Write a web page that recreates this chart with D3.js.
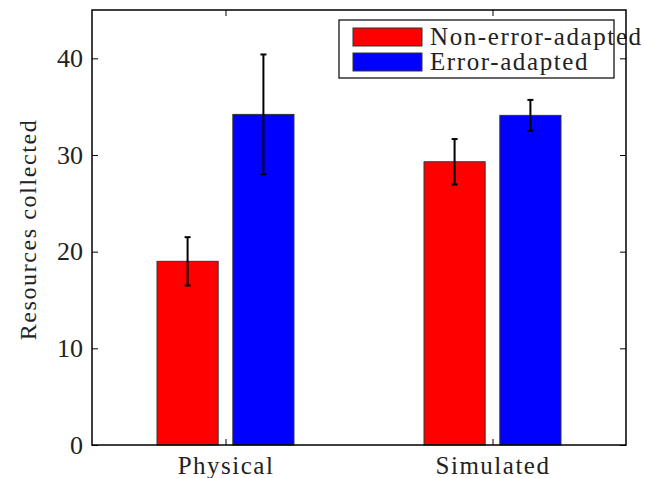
<!DOCTYPE html>
<html lang="en">
<head>
    <meta charset="UTF-8">
    <title>Resources collected</title>
    <script src="https://d3js.org/d3.v7.min.js"></script>
    <style>
        body { margin: 0; background: #fff; }
        text { font-family: "Liberation Serif", "DejaVu Serif", serif; fill: #222; }
    </style>
</head>
<body>
    <svg width="645" height="478"></svg>

    <script>
        // Data
        const categories = ["Physical", "Simulated"];
        const seriesNames = ["Non-error-adapted", "Error-adapted"];
        const seriesColors = ["#ff0000", "#0000ff"];
        const nonAdapted = [19.0, 29.3];
        const nonAdaptedErr = [2.5, 2.35];
        const adapted = [34.2, 34.1];
        const adaptedErr = [6.2, 1.6];
        const yTicks = [0, 10, 20, 30, 40];

        const width = 645;
        const height = 478;
        const margin = { top: 10, right: 19, bottom: 33, left: 92 };
        const x0 = margin.left, x1 = width - margin.right;
        const y0 = height - margin.bottom, y1 = margin.top;

        const svg = d3.select("svg");

        // group index 1..2, xlim [0.5, 2.5] like matlab
        const xScale = d3.scaleLinear().domain([0.5, 2.5]).range([x0, x1]);
        const yScale = d3.scaleLinear().domain([0, 45]).range([y0, y1]);

        const barW = 0.229;
        const offsets = [-0.142, 0.142];
        const values = [nonAdapted, adapted];
        const errs = [nonAdaptedErr, adaptedErr];

        const bars = [];
        values.forEach((vals, s) => {
            vals.forEach((v, i) => {
                bars.push({ s, x: i + 1 + offsets[s], v, e: errs[s][i] });
            });
        });

        // bars
        svg.append("g").selectAll("rect")
            .data(bars)
            .join("rect")
            .attr("x", d => xScale(d.x - barW / 2))
            .attr("width", d => xScale(d.x + barW / 2) - xScale(d.x - barW / 2))
            .attr("y", d => yScale(d.v))
            .attr("height", d => yScale(0) - yScale(d.v))
            .attr("fill", d => seriesColors[d.s])
            .attr("stroke", "#333")
            .attr("stroke-width", 1);

        // error bars
        const eb = svg.append("g").attr("stroke", "#000").attr("stroke-width", 2);
        bars.forEach(d => {
            const cx = xScale(d.x);
            eb.append("line").attr("x1", cx).attr("x2", cx)
                .attr("y1", yScale(d.v - d.e)).attr("y2", yScale(d.v + d.e));
            [d.v - d.e, d.v + d.e].forEach(y => {
                eb.append("line").attr("x1", cx - 3).attr("x2", cx + 3)
                    .attr("y1", yScale(y)).attr("y2", yScale(y));
            });
        });

        // legend (drawn under the axes, as in the original)
        const legend = svg.append("g");
        legend.append("rect")
            .attr("x", 339).attr("y", 20).attr("width", 275).attr("height", 58)
            .attr("fill", "#fff").attr("stroke", "#000").attr("stroke-width", 1.2);
        seriesNames.forEach((name, i) => {
            const yy = 28 + i * 25;
            legend.append("rect")
                .attr("x", 353).attr("y", yy).attr("width", 69).attr("height", 18)
                .attr("fill", seriesColors[i]).attr("stroke", "#333");
            legend.append("text")
                .attr("x", 430).attr("y", yy + 17)
                .attr("font-size", 25)
                .attr("letter-spacing", 1.6)
                .attr("fill", "#222")
                .text(name);
        });

        // axes with inward ticks on all four sides
        const tickLen = 6;
        const yAxisL = d3.axisLeft(yScale).tickValues(yTicks).tickSizeInner(-tickLen).tickSizeOuter(0).tickPadding(9);
        const gl = svg.append("g").attr("transform", `translate(${x0},0)`).call(yAxisL);
        const yAxisR = d3.axisRight(yScale).tickValues(yTicks).tickSizeInner(-tickLen).tickSizeOuter(0).tickFormat("");
        svg.append("g").attr("transform", `translate(${x1},0)`).call(yAxisR);

        const xAxisB = d3.axisBottom(xScale).tickValues([1, 2]).tickFormat((d, i) => categories[i])
            .tickSizeInner(-tickLen).tickSizeOuter(0);
        const gb = svg.append("g").attr("transform", `translate(0,${y0})`).call(xAxisB);
        const xAxisT = d3.axisTop(xScale).tickValues([1, 2]).tickFormat("").tickSizeInner(-tickLen).tickSizeOuter(0);
        svg.append("g").attr("transform", `translate(0,${y1})`).call(xAxisT);

        svg.selectAll(".domain").remove();
        svg.selectAll(".tick line").attr("stroke", "#000").attr("stroke-width", 1);
        gl.selectAll("text").attr("font-size", 26).attr("font-family", "Liberation Serif, serif").attr("fill", "#333");
        gb.selectAll("text").attr("font-size", 25).attr("font-family", "Liberation Serif, serif")
            .attr("letter-spacing", 1.5).attr("fill", "#333")
            .attr("y", 29).attr("dy", 0);

        // box
        svg.append("rect")
            .attr("x", x0).attr("y", y1)
            .attr("width", x1 - x0).attr("height", y0 - y1)
            .attr("fill", "none").attr("stroke", "#000").attr("stroke-width", 1.5);

        // y label
        svg.append("text")
            .attr("transform", `translate(36,${(y0 + y1) / 2 + 2}) rotate(-90)`)
            .attr("text-anchor", "middle")
            .attr("font-size", 24)
            .attr("letter-spacing", 1.6)
            .attr("fill", "#333")
            .text("Resources collected");
    </script>
</body>
</html>
